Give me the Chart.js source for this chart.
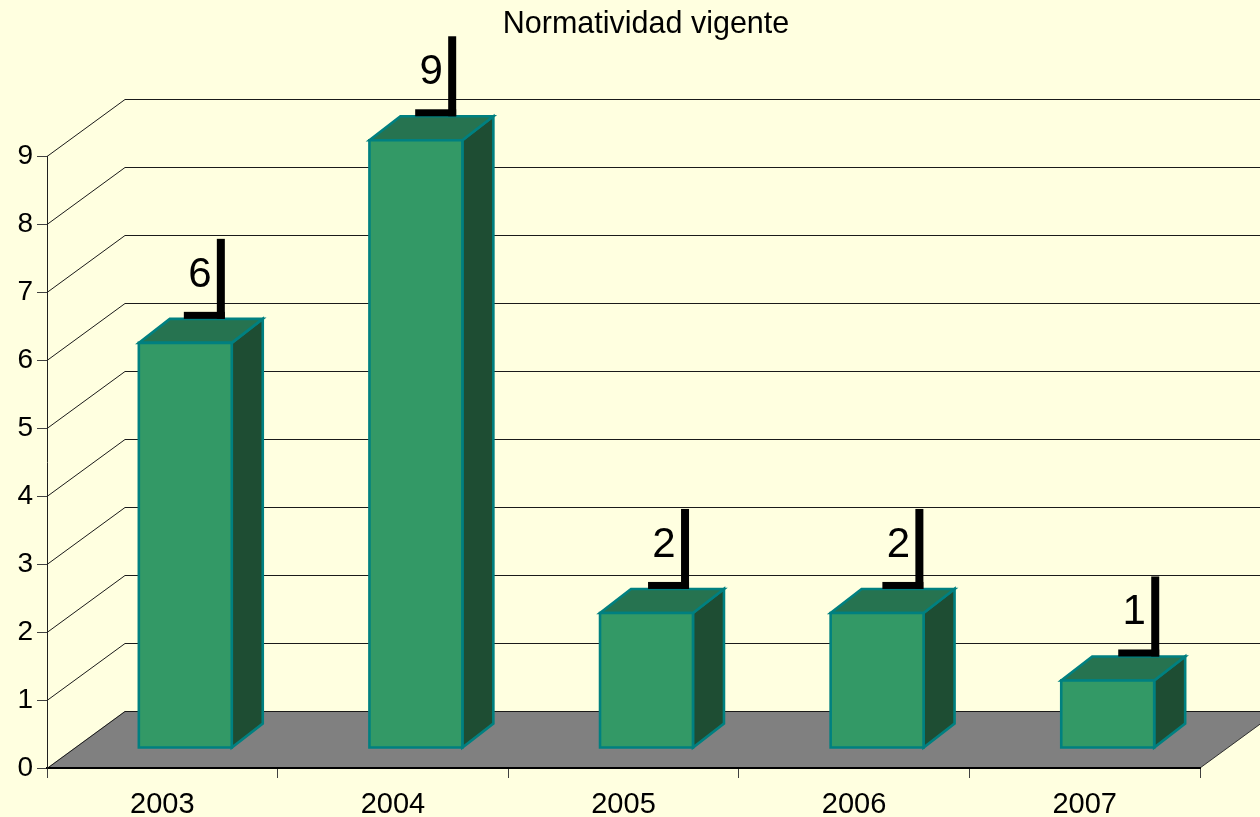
<!DOCTYPE html>
<html><head><meta charset="utf-8">
<script src="https://cdn.jsdelivr.net/npm/chart.js@4.4.1/dist/chart.umd.min.js"></script>
<style>html,body{margin:0;padding:0;background:#FFFFE0;overflow:hidden}#wrap{width:1260px;height:817px}</style>
</head><body><div id="wrap"><canvas id="c" width="1260" height="817"></canvas></div>
<script>
const chartTitle = 'Normatividad vigente';
const categories = ['2003', '2004', '2005', '2006', '2007'];
const values = [6, 9, 2, 2, 1];
const yMin = 0;
const yMax = 9;
const yStep = 1;

const FONT = '"Liberation Sans", Arial, sans-serif';
const WALL = { dx: 78, dy: -57 };
const BAR = { shiftX: 23, shiftY: -20, dx: 31, dy: -24, k: 0.993 };
const COLORS = { bg: '#FFFFE0', floor: '#808080', front: '#339966', top: '#267350', side: '#1E4D33', edge: '#008080' };

const threeD = {
  id: 'threeD',
  beforeDraw(chart) {
    const { ctx, chartArea: a, scales: { y } } = chart;
    ctx.save();
    ctx.fillStyle = COLORS.bg;
    ctx.fillRect(0, 0, chart.width, chart.height);
    const y0 = y.getPixelForValue(yMin);
    ctx.beginPath();
    ctx.moveTo(a.left, y0);
    ctx.lineTo(a.right, y0);
    ctx.lineTo(a.right + WALL.dx, y0 + WALL.dy);
    ctx.lineTo(a.left + WALL.dx, y0 + WALL.dy);
    ctx.closePath();
    ctx.fillStyle = COLORS.floor;
    ctx.fill();
    ctx.strokeStyle = '#303030';
    ctx.lineWidth = 1;
    ctx.beginPath();
    ctx.moveTo(a.right, y0);
    ctx.lineTo(a.right + WALL.dx, y0 + WALL.dy);
    ctx.stroke();
    ctx.strokeStyle = '#1a1a1a';
    y.ticks.forEach(t => {
      const py = Math.round(y.getPixelForValue(t.value)) + 0.5;
      ctx.beginPath();
      ctx.moveTo(a.left, py);
      ctx.lineTo(a.left + WALL.dx, py + WALL.dy);
      ctx.lineTo(a.right + WALL.dx, py + WALL.dy);
      ctx.stroke();
    });
    ctx.fillStyle = '#000';
    ctx.font = '30.5px ' + FONT;
    ctx.textAlign = 'center';
    ctx.textBaseline = 'alphabetic';
    ctx.fillText(chartTitle, 646, 33);
    ctx.restore();
  },
  afterDatasetsDraw(chart) {
    const { ctx, chartArea: a } = chart;
    const meta = chart.getDatasetMeta(0);
    ctx.save();
    let firstX = null, lastX = null;
    const pts = meta.data.map(el => el.getProps(['x', 'y', 'base', 'width'], true));
    pts.forEach((p, i) => {
      const x1 = p.x - p.width / 2 + BAR.shiftX;
      const x2 = x1 + p.width;
      const bottom = p.base + BAR.shiftY;
      const top = bottom - (p.base - p.y) * BAR.k;
      ctx.lineWidth = 2.6;
      ctx.strokeStyle = COLORS.edge;
      ctx.lineJoin = 'miter';
      // side
      ctx.beginPath();
      ctx.moveTo(x2, top); ctx.lineTo(x2 + BAR.dx, top + BAR.dy);
      ctx.lineTo(x2 + BAR.dx, bottom + BAR.dy); ctx.lineTo(x2, bottom); ctx.closePath();
      ctx.fillStyle = COLORS.side; ctx.fill(); ctx.stroke();
      // top
      ctx.beginPath();
      ctx.moveTo(x1, top); ctx.lineTo(x2, top);
      ctx.lineTo(x2 + BAR.dx, top + BAR.dy); ctx.lineTo(x1 + BAR.dx, top + BAR.dy); ctx.closePath();
      ctx.fillStyle = COLORS.top; ctx.fill(); ctx.stroke();
      // front
      ctx.beginPath();
      ctx.rect(x1, top, p.width, bottom - top);
      ctx.fillStyle = COLORS.front; ctx.fill(); ctx.stroke();
      // leader + label (perspective drift toward the right)
      const span = pts[pts.length - 1].x - pts[0].x;
      const f = span ? (p.x - pts[0].x) / span : 0;
      const e = 12 * f * f;
      const tb = top + BAR.dy;
      ctx.fillStyle = '#000';
      ctx.fillRect(x1 + 45 + e, tb - 7, 41, 7);
      ctx.fillRect(x1 + 78 + e, tb - 80, 8, 80);
      ctx.font = '42px ' + FONT;
      ctx.textAlign = 'center';
      ctx.textBaseline = 'alphabetic';
      ctx.fillText(String(values[i]), x1 + 61 + e, tb - 32);
    });
    ctx.restore();
  }
};

new Chart(document.getElementById('c'), {
  type: 'bar',
  data: {
    labels: categories,
    datasets: [{
      data: values,
      backgroundColor: 'rgba(0,0,0,0)',
      borderWidth: 0,
      categoryPercentage: 1,
      barPercentage: 0.403
    }]
  },
  options: {
    responsive: false,
    animation: false,
    devicePixelRatio: 1,
    layout: { padding: { top: 156, right: 60, left: 0, bottom: 0 } },
    plugins: { legend: { display: false }, title: { display: false }, tooltip: { enabled: false } },
    scales: {
      x: {
        offset: true,
        afterFit(s) { s.height = 49; },
        grid: { display: true, offset: true, drawOnChartArea: false, drawTicks: true, tickLength: 10, color: '#404040', lineWidth: 1 },
        border: { display: true, color: '#000', width: 2 },
        ticks: { color: '#000', font: { family: FONT, size: 29 }, padding: 10, maxRotation: 0 }
      },
      y: {
        min: yMin, max: yMax,
        afterFit(s) { s.width = 47; },
        grid: { display: true, drawOnChartArea: false, drawTicks: true, tickLength: 10, color: '#404040', lineWidth: 1 },
        border: { display: true, color: '#202020', width: 1 },
        ticks: { stepSize: yStep, color: '#000', font: { family: FONT, size: 28 }, padding: 4 }
      }
    }
  },
  plugins: [threeD]
});
</script>
</body></html>
